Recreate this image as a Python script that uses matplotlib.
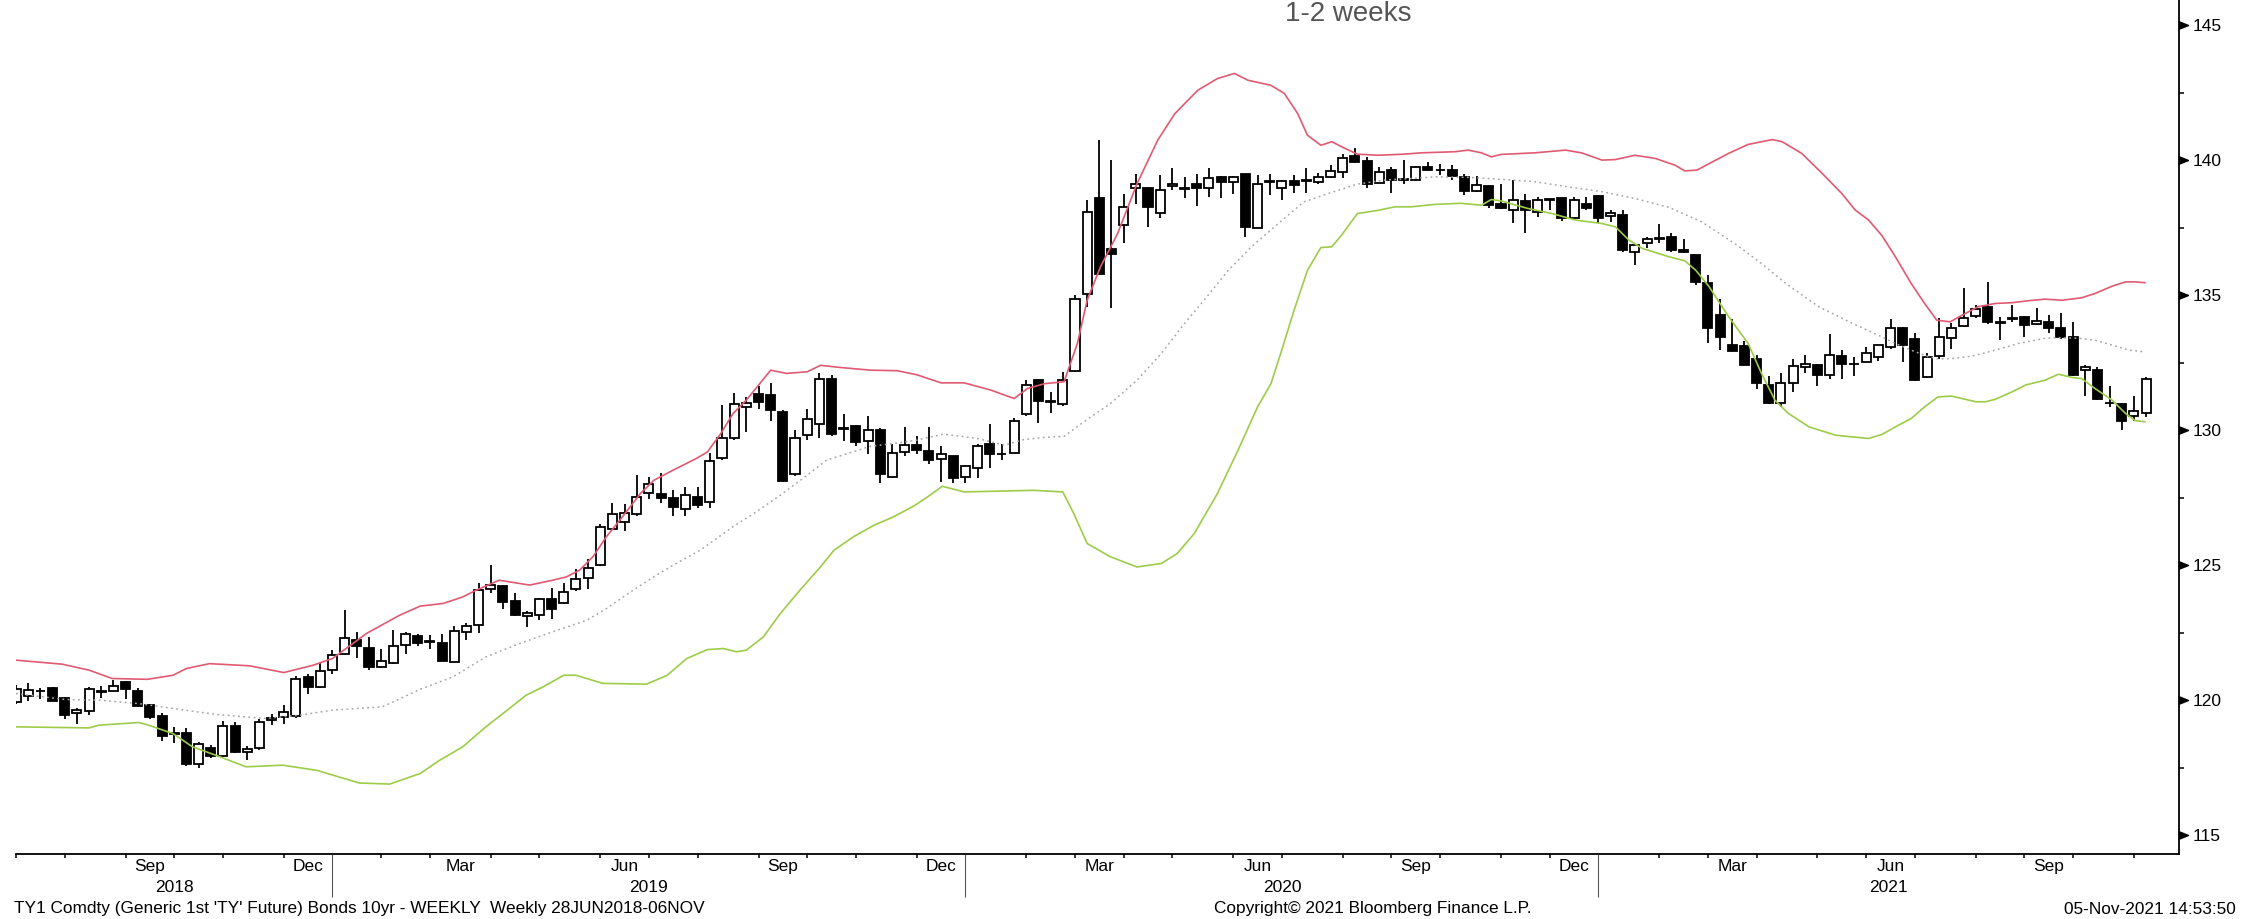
import numpy as np
import pandas as pd
import matplotlib
matplotlib.use('Agg')
import matplotlib.pyplot as plt
import matplotlib.dates as mdates
from matplotlib.path import Path
from matplotlib.patches import Rectangle

# weekly TY1 candles, first bar 29 Jun 2018, one bar per week
start = '2018-06-29'

opens = [119.92, 120.17, 120.33, 120.45, 120.07, 119.51, 119.61, 120.31, 120.35, 120.66,
         120.35, 119.82, 119.40, 118.75, 118.77, 117.63, 118.22, 117.94, 119.05, 118.09,
         118.21, 119.28, 119.39, 119.40, 120.87, 120.48, 121.10, 121.69, 122.24, 121.94,
         121.22, 121.37, 122.05, 122.37, 122.14, 122.10, 121.42, 122.53, 122.77, 124.13,
         124.22, 123.68, 123.11, 123.15, 123.74, 123.58, 124.13, 124.54, 125.00, 126.33,
         126.60, 126.91, 127.68, 127.63, 127.47, 127.06, 127.53, 127.32, 128.95, 129.69,
         130.86, 131.33, 131.30, 130.68, 128.37, 129.81, 130.24, 131.91, 130.04, 130.15,
         129.60, 130.02, 128.27, 129.20, 129.44, 129.23, 128.92, 129.03, 128.27, 128.61,
         129.50, 129.12, 129.16, 130.61, 131.87, 131.03, 130.96, 132.19, 135.03, 138.58,
         136.69, 137.59, 138.95, 138.98, 138.05, 139.03, 138.94, 139.13, 138.95, 139.38,
         139.20, 139.47, 137.50, 139.20, 138.95, 139.23, 139.21, 139.20, 139.38, 139.56,
         140.14, 139.97, 139.16, 139.63, 139.30, 139.28, 139.75, 139.62, 139.65, 139.38,
         138.85, 139.03, 138.37, 138.17, 138.49, 138.08, 138.53, 138.58, 137.87, 138.36,
         138.67, 137.92, 137.96, 136.60, 136.94, 137.08, 137.16, 136.67, 136.48, 135.43,
         134.26, 133.15, 133.11, 132.65, 131.66, 130.99, 131.75, 132.34, 132.41, 132.04,
         132.74, 132.43, 132.53, 132.71, 133.09, 133.80, 133.36, 131.95, 132.74, 133.40,
         133.85, 134.22, 134.57, 133.97, 134.10, 134.20, 133.93, 134.01, 133.80, 133.43,
         132.22, 132.22, 131.00, 130.96, 130.52, 130.64]

highs = [120.55, 120.63, 120.45, 120.50, 120.10, 119.71, 120.50, 120.54, 120.75, 120.70,
         120.45, 119.85, 119.51, 118.99, 118.95, 118.43, 118.35, 119.24, 119.20, 118.31,
         119.30, 119.49, 119.82, 120.91, 120.97, 121.37, 121.84, 123.33, 122.52, 122.34,
         121.90, 122.61, 122.52, 122.45, 122.40, 122.44, 122.74, 122.86, 124.32, 125.00,
         124.25, 123.98, 123.31, 123.80, 124.17, 124.32, 124.84, 125.24, 126.54, 127.31,
         127.28, 128.33, 128.27, 128.42, 127.77, 127.90, 127.90, 129.16, 130.92, 131.38,
         131.23, 131.63, 131.73, 130.74, 130.00, 130.80, 132.10, 132.03, 130.61, 130.18,
         130.51, 130.06, 129.50, 130.10, 129.77, 130.10, 129.40, 129.05, 128.70, 129.50,
         130.24, 129.50, 130.43, 131.85, 131.91, 131.42, 132.16, 134.99, 138.51, 140.74,
         140.02, 138.76, 139.50, 139.00, 139.44, 139.72, 139.38, 139.50, 139.69, 139.40,
         139.40, 139.50, 139.44, 139.50, 139.25, 139.44, 139.72, 139.53, 139.81, 140.22,
         140.43, 140.12, 139.75, 139.75, 140.02, 139.77, 139.94, 139.85, 139.81, 139.48,
         139.41, 139.05, 139.11, 139.26, 138.74, 138.64, 138.56, 138.60, 138.62, 138.62,
         138.70, 138.17, 138.17, 136.88, 137.16, 137.65, 137.31, 137.06, 136.50, 135.74,
         134.84, 134.13, 133.31, 132.78, 131.99, 132.10, 132.65, 132.78, 132.45, 133.55,
         132.96, 132.69, 133.06, 133.17, 134.10, 133.82, 133.58, 132.84, 134.14, 133.95,
         135.28, 134.63, 135.50, 134.20, 134.63, 134.22, 134.54, 134.26, 134.35, 134.01,
         132.40, 132.32, 131.63, 131.00, 131.26, 131.98]

lows = [119.85, 119.98, 120.04, 119.95, 119.30, 119.12, 119.46, 120.08, 120.33, 120.04,
        119.75, 119.30, 118.50, 118.40, 117.57, 117.48, 117.85, 117.90, 118.05, 117.78,
        118.15, 119.09, 119.12, 119.34, 120.23, 120.45, 120.95, 121.66, 121.57, 121.10,
        121.20, 121.35, 121.69, 122.00, 121.91, 121.43, 121.40, 122.22, 122.47, 123.95,
        123.36, 123.11, 122.71, 122.98, 123.02, 123.55, 124.05, 124.13, 124.96, 126.30,
        126.27, 126.81, 127.43, 127.31, 126.81, 126.81, 127.10, 127.10, 128.91, 129.63,
        129.94, 130.80, 130.33, 128.09, 128.29, 129.65, 129.69, 129.77, 129.60, 129.40,
        129.13, 128.05, 128.24, 129.04, 129.13, 128.76, 128.08, 128.05, 128.05, 128.24,
        128.61, 128.88, 129.14, 130.51, 130.27, 130.64, 130.89, 132.16, 134.56, 135.78,
        134.54, 136.93, 138.39, 137.53, 137.87, 138.89, 138.58, 138.29, 138.64, 138.61,
        138.76, 137.16, 137.47, 138.70, 138.54, 138.79, 138.79, 139.13, 139.35, 139.32,
        139.90, 138.95, 139.14, 138.79, 139.13, 139.26, 139.61, 139.44, 139.28, 138.70,
        138.83, 138.21, 138.20, 137.68, 137.31, 137.90, 138.17, 137.75, 137.84, 138.17,
        137.68, 137.71, 136.60, 136.11, 136.76, 136.94, 136.60, 136.57, 135.37, 133.21,
        132.96, 132.92, 132.39, 131.54, 130.97, 130.86, 131.42, 132.10, 131.63, 131.91,
        131.91, 132.00, 132.51, 132.57, 132.99, 132.53, 131.83, 131.93, 132.65, 133.02,
        133.83, 134.14, 133.93, 133.33, 134.01, 133.46, 133.89, 133.58, 133.36, 132.02,
        131.26, 131.11, 130.84, 130.00, 130.35, 130.47]

closes = [120.42, 120.38, 120.35, 119.98, 119.46, 119.64, 120.42, 120.35, 120.54, 120.42,
          119.80, 119.36, 118.68, 118.79, 117.65, 118.37, 117.94, 119.05, 118.06, 118.19,
          119.18, 119.32, 119.57, 120.79, 120.48, 121.07, 121.66, 122.31, 121.99, 121.22,
          121.44, 121.99, 122.44, 122.10, 122.18, 121.45, 122.56, 122.75, 124.07, 124.26,
          123.64, 123.15, 123.23, 123.74, 123.39, 124.01, 124.48, 124.91, 126.42, 126.91,
          126.94, 127.53, 128.00, 127.47, 127.16, 127.58, 127.24, 128.86, 129.69, 130.95,
          131.01, 131.05, 130.74, 128.11, 129.69, 130.40, 131.91, 129.87, 130.08, 129.56,
          130.02, 128.39, 129.16, 129.44, 129.27, 128.91, 129.13, 128.24, 128.68, 129.42,
          129.11, 129.10, 130.34, 131.66, 131.08, 131.07, 131.87, 134.87, 138.08, 135.80,
          136.52, 138.27, 139.13, 138.27, 138.89, 139.13, 138.98, 138.95, 139.32, 139.20,
          139.38, 137.53, 139.13, 139.24, 139.23, 139.07, 139.25, 139.38, 139.59, 140.09,
          139.93, 139.13, 139.56, 139.28, 139.28, 139.75, 139.63, 139.64, 139.40, 138.85,
          139.07, 138.33, 138.21, 138.54, 138.15, 138.52, 138.55, 137.84, 138.52, 138.21,
          137.87, 138.05, 136.66, 136.87, 137.06, 137.10, 136.66, 136.60, 135.49, 133.80,
          133.46, 132.94, 132.41, 131.75, 130.99, 131.75, 132.37, 132.44, 132.04, 132.78,
          132.44, 132.45, 132.84, 133.15, 133.77, 133.15, 131.85, 132.69, 133.46, 133.79,
          134.17, 134.47, 134.01, 133.99, 134.16, 133.89, 134.04, 133.77, 133.43, 132.04,
          132.35, 131.14, 131.02, 130.35, 130.72, 131.91]

# bollinger bands: week number from first bar, price
upper_wk = [0.0, 3.8, 6.0, 7.9, 10.8, 12.9, 14.0, 15.9, 19.2, 22.0, 24.4, 26.0, 28.8, 31.5,
            33.2, 35.1, 36.7, 37.8, 39.7, 42.2, 44.1, 45.2, 46.3, 47.4, 48.5, 49.6, 51.3,
            52.4, 54.0, 55.9, 56.8, 57.9, 58.9, 60.0, 62.0, 63.3, 65.0, 66.1, 67.7, 70.2,
            72.4, 74.0, 76.0, 77.9, 80.1, 82.0, 83.1, 84.5, 86.1, 87.2, 88.0, 89.1, 90.5,
            92.1, 93.8, 95.2, 97.1, 98.7, 100.1, 101.2, 103.1, 104.2, 105.3, 106.1, 107.2,
            108.1, 109.2, 110.2, 111.9, 114.0, 115.5, 118.2, 119.3, 120.4, 121.2, 122.0,
            124.8, 127.3, 128.6, 130.3, 131.4, 133.0, 134.7, 136.3, 137.1, 138.1, 139.1,
            140.7, 142.3, 143.4, 144.3, 145.1, 146.7, 148.4, 150.0, 151.1, 152.2, 153.3,
            154.4, 155.7, 156.8, 157.8, 158.9, 159.9, 161.2, 162.6, 164.0, 165.3, 166.7,
            168.1, 169.7, 170.8, 172.2, 173.3, 174.1, 174.9]
upper = [121.48, 121.33, 121.11, 120.80, 120.77, 120.92, 121.17, 121.35, 121.27, 121.02,
         121.29, 121.54, 122.47, 123.14, 123.48, 123.58, 123.82, 124.07, 124.44, 124.26,
         124.44, 124.56, 124.81, 125.31, 126.05, 126.66, 127.65, 128.14, 128.52, 128.95,
         129.19, 129.87, 130.61, 131.11, 132.22, 132.10, 132.16, 132.40, 132.32, 132.22,
         132.20, 132.05, 131.75, 131.75, 131.48, 131.17, 131.54, 131.72, 131.79, 133.21,
         134.81, 136.05, 137.28, 139.13, 140.74, 141.72, 142.59, 143.02, 143.21, 142.96,
         142.77, 142.47, 141.72, 140.92, 140.55, 140.68, 140.43, 140.22, 140.18, 140.22,
         140.27, 140.31, 140.37, 140.27, 140.12, 140.21, 140.27, 140.37, 140.27, 140.00,
         140.02, 140.18, 140.06, 139.81, 139.60, 139.63, 139.87, 140.25, 140.58, 140.68,
         140.76, 140.68, 140.25, 139.50, 138.76, 138.15, 137.78, 137.20, 136.42, 135.43,
         134.69, 134.07, 134.01, 134.26, 134.57, 134.69, 134.72, 134.79, 134.85, 134.81,
         134.90, 135.06, 135.33, 135.49, 135.49, 135.46]

mid_wk = [0.0, 4.1, 6.8, 10.1, 12.9, 16.4, 20.5, 23.3, 26.0, 30.1, 33.2, 35.9, 38.6, 41.4,
          44.1, 46.9, 48.5, 50.7, 52.4, 54.0, 56.2, 58.9, 60.6, 62.8, 65.0, 66.6, 68.3,
          70.2, 72.1, 74.0, 76.2, 79.0, 81.2, 82.8, 84.5, 86.1, 88.3, 89.9, 92.1, 94.1,
          96.0, 97.6, 99.6, 101.5, 103.7, 105.8, 107.8, 110.2, 112.4, 114.6, 116.6, 119.3,
          122.0, 124.8, 127.5, 130.3, 133.0, 135.8, 138.5, 141.2, 143.4, 145.4, 148.1,
          150.9, 153.3, 154.4, 155.7, 157.1, 157.9, 159.0, 160.7, 162.6, 164.5, 166.7,
          167.8, 169.5, 170.8, 172.2, 173.6, 174.9]
mid = [120.24, 120.02, 120.00, 119.87, 119.69, 119.47, 119.32, 119.44, 119.63, 119.75,
       120.40, 120.86, 121.60, 122.10, 122.53, 122.96, 123.39, 124.07, 124.57, 125.00,
       125.55, 126.42, 126.91, 127.59, 128.33, 128.89, 129.13, 129.40, 129.50, 129.63,
       129.85, 129.69, 129.44, 129.65, 129.73, 129.77, 130.49, 130.98, 131.85, 132.84,
       133.95, 134.81, 135.92, 136.79, 137.65, 138.45, 138.76, 139.11, 139.26, 139.32,
       139.38, 139.36, 139.29, 139.20, 139.01, 138.83, 138.58, 138.25, 137.71, 136.91,
       136.17, 135.43, 134.57, 133.95, 133.45, 133.21, 132.96, 132.72, 132.64, 132.65,
       132.74, 132.96, 133.21, 133.40, 133.42, 133.40, 133.33, 133.15, 132.96, 132.90]

lower_wk = [0.0, 6.0, 6.8, 10.1, 10.9, 12.9, 14.5, 16.4, 18.9, 21.9, 24.7, 28.2, 30.7, 33.2,
            34.8, 36.7, 38.6, 40.0, 41.9, 43.3, 45.0, 46.0, 48.2, 51.8, 53.5, 55.1, 56.8,
            58.1, 59.2, 60.0, 61.4, 62.8, 64.4, 66.1, 67.2, 68.8, 70.5, 72.1, 73.8, 74.9,
            76.1, 77.9, 81.7, 83.6, 86.0, 86.9, 88.0, 89.9, 92.1, 94.1, 95.4, 96.8, 98.7,
            100.4, 102.0, 103.1, 103.9, 105.0, 106.1, 107.2, 108.1, 108.9, 110.2, 111.9,
            113.3, 114.6, 116.6, 118.7, 120.4, 121.2, 122.0, 124.2, 126.2, 128.1, 130.3,
            131.4, 132.5, 133.6, 135.8, 137.1, 138.0, 139.1, 140.7, 142.3, 143.4, 144.5,
            145.6, 147.3, 149.5, 152.2, 153.3, 154.4, 155.7, 156.8, 157.9, 159.0, 161.0,
            161.8, 162.6, 164.0, 165.1, 166.7, 167.8, 168.9, 169.7, 170.8, 172.2, 173.3,
            174.1, 174.9]
lower = [119.01, 118.97, 119.07, 119.17, 119.07, 118.76, 118.27, 117.96, 117.53, 117.59,
         117.40, 116.93, 116.89, 117.28, 117.77, 118.27, 119.01, 119.50, 120.18, 120.49,
         120.92, 120.92, 120.62, 120.59, 120.92, 121.54, 121.87, 121.91, 121.79, 121.85,
         122.34, 123.21, 124.07, 124.94, 125.55, 126.05, 126.48, 126.79, 127.20, 127.53,
         127.92, 127.71, 127.75, 127.77, 127.71, 126.91, 125.80, 125.31, 124.93, 125.06,
         125.43, 126.17, 127.65, 129.26, 130.86, 131.72, 132.84, 134.44, 135.92, 136.76,
         136.79, 137.22, 138.02, 138.14, 138.27, 138.27, 138.36, 138.40, 138.33, 138.54,
         138.49, 138.21, 138.02, 137.78, 137.65, 137.53, 137.04, 136.73, 136.42, 136.27,
         135.92, 135.31, 134.20, 133.21, 132.10, 131.11, 130.62, 130.12, 129.81, 129.69,
         129.84, 130.12, 130.43, 130.86, 131.23, 131.26, 131.05, 131.05, 131.14, 131.42,
         131.67, 131.85, 132.07, 131.95, 131.91, 131.54, 131.11, 130.62, 130.35, 130.31]

month_names = {3: 'Mar', 6: 'Jun', 9: 'Sep', 12: 'Dec'}

plt.rcParams['font.family'] = ['Liberation Sans', 'DejaVu Sans']

dates = pd.date_range(start, periods=len(opens), freq='7D')
x = mdates.date2num(dates)
x0 = x[0]

W, H = 2247, 919
fig = plt.figure(figsize=(W / 100, H / 100), dpi=100)
ax = fig.add_axes([16 / W, 1 - 854 / H, (2179 - 16) / W, 854 / H])

# candles
bw = 5.2
for xi, o, h, l, c in zip(x, opens, highs, lows, closes):
    ax.vlines(xi, l, h, color='black', lw=1.3, zorder=2)
    up = c >= o
    ax.add_patch(Rectangle((xi - bw / 2, min(o, c)), bw, abs(c - o),
                           facecolor='white' if up else 'black',
                           edgecolor='black', lw=1.3, zorder=3))

# bands
ax.plot(x0 + np.array(upper_wk) * 7, upper, color='#e05a72', lw=1.2, zorder=4)
ax.plot(x0 + np.array(lower_wk) * 7, lower, color='#9dcc48', lw=1.2, zorder=4)
ax.plot(x0 + np.array(mid_wk) * 7, mid, color='#a8a8a8', lw=1.1, ls=(0, (1.2, 2.2)), zorder=4)

ax.set_xlim(x0, x0 + 177.7 * 7)
ax.set_ylim(114.3, 145.93)

# x axis: tick at the last bar of each month, long tick at year end
month_ticks = []
year_ticks = []
for i in range(len(dates) - 1):
    if dates[i].month != dates[i + 1].month:
        month_ticks.append((x[i], dates[i + 1].year, dates[i + 1].month))
        if dates[i + 1].month == 1:
            year_ticks.append(x[i])

ax.xaxis.set_major_locator(matplotlib.ticker.FixedLocator(year_ticks))
ax.xaxis.set_minor_locator(matplotlib.ticker.FixedLocator([t[0] for t in month_ticks]))
ax.tick_params(axis='x', which='minor', length=3, width=1.1, direction='out', labelbottom=False)
ax.tick_params(axis='x', which='major', length=31, width=0.8, color='#555555',
               direction='out', labelbottom=False)

xlim = ax.get_xlim()
edges = [t[0] for t in month_ticks] + [xlim[1]]
for k, (tx, yr, mo) in enumerate(month_ticks):
    if mo in month_names:
        ax.text((tx + edges[k + 1]) / 2, -0.0152, month_names[mo],
                transform=ax.get_xaxis_transform(), ha='center', va='center', fontsize=12.5)

ybounds = [xlim[0]] + year_ticks + [xlim[1]]
for k, yr in enumerate(range(2018, 2022)):
    ax.text((ybounds[k] + ybounds[k + 1]) / 2, -0.039, str(yr),
            transform=ax.get_xaxis_transform(), ha='center', va='center', fontsize=12.5)

# y axis on the right with arrow-head major ticks
yt = np.arange(115, 146, 5)
ax.yaxis.tick_right()
ax.set_yticks(yt)
ax.set_yticks(np.arange(117.5, 145, 5), minor=True)
ax.tick_params(axis='y', which='major', length=0, pad=9.5, labelsize=12.5)
ax.tick_params(axis='y', which='minor', length=3.8, width=1.1, direction='out')
tri = Path([(0, -0.8), (2, 0), (0, 0.8), (0, -0.8)],
           [Path.MOVETO, Path.LINETO, Path.LINETO, Path.CLOSEPOLY])
ax.plot(np.ones(len(yt)), yt, ls='none', marker=tri, ms=13, color='black',
        transform=ax.get_yaxis_transform(), clip_on=False, zorder=5)

for s in ['left', 'top']:
    ax.spines[s].set_visible(False)
for s in ['right', 'bottom']:
    ax.spines[s].set_linewidth(1.3)

fig.text(1348 / W, 1 - 1 / H, '1-2 weeks', ha='center', va='top',
         fontsize=20, color='#555555')

fig.text(14 / W, 1 - 909 / H,
         "TY1 Comdty (Generic 1st 'TY' Future) Bonds 10yr - WEEKLY  Weekly 28JUN2018-06NOV",
         ha='left', va='center', fontsize=12.4)
fig.text(1373 / W, 1 - 909 / H, 'Copyright\u00a9 2021 Bloomberg Finance L.P.',
         ha='center', va='center', fontsize=12.4)
fig.text(2236 / W, 1 - 909 / H, '05-Nov-2021 14:53:50', ha='right', va='center', fontsize=12.4)

fig.savefig('out.png', dpi=100)
